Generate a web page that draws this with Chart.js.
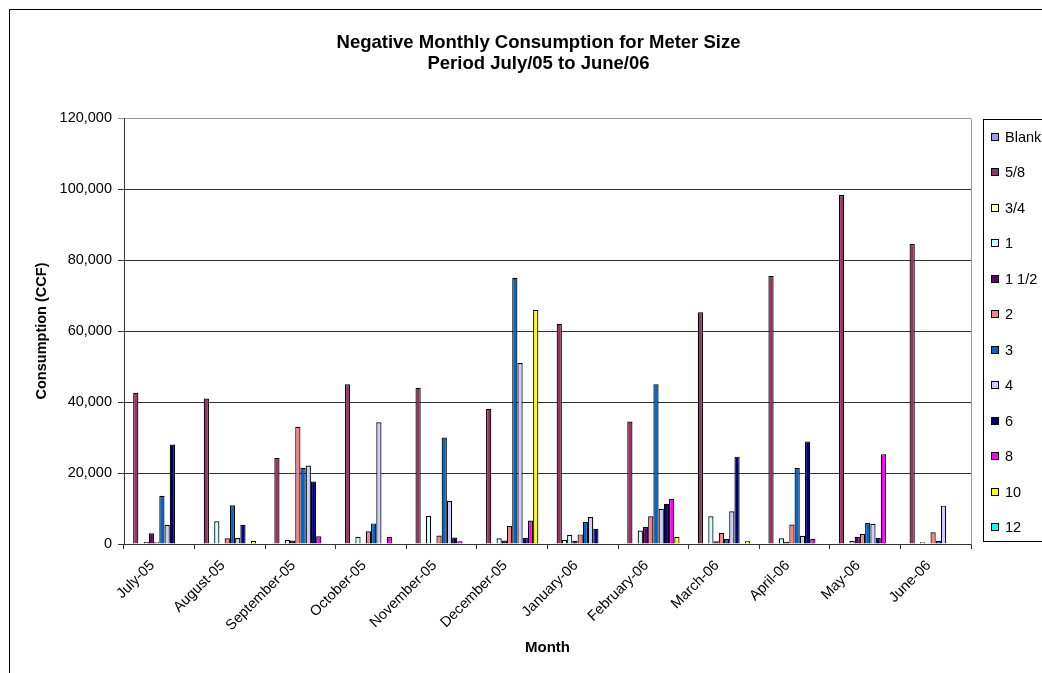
<!DOCTYPE html>
<html>
<head>
<meta charset="utf-8">
<script src="https://cdn.jsdelivr.net/npm/chart.js@4.4.1/dist/chart.umd.min.js"></script>
<style>
  html, body { margin: 0; padding: 0; background: #ffffff; overflow: hidden; }
  #wrap { width: 1042px; height: 673px; position: relative; }
  canvas { display: block; }
</style>
</head>
<body>
<div id="wrap"><canvas id="chart" width="1042" height="673"></canvas></div>
<script>
// Months on the category axis
const months = ['July-05', 'August-05', 'September-05', 'October-05', 'November-05', 'December-05',
                'January-06', 'February-06', 'March-06', 'April-06', 'May-06', 'June-06'];

// Meter sizes (one series each)
const meterSizes = ['Blank', '5/8', '3/4', '1', '1 1/2', '2', '3', '4', '6', '8', '10', '12'];

// Negative consumption per month (CCF), one array per meter size
const sizeBlank = [0, 0, 0, 0, 0, 0, 0, 0, 0, 0, 0, 0];
const size5_8   = [42600, 41000, 24200, 45000, 44000, 38100, 62000, 34500, 65300, 75500, 98300, 84500];
const size3_4   = [0, 0, 0, 0, 0, 0, 1100, 0, 0, 0, 0, 0];
const size1     = [600, 6400, 1200, 2000, 7900, 1600, 2600, 3800, 7800, 1600, 900, 500];
const size1_1_2 = [3000, 0, 1000, 0, 0, 1000, 900, 4800, 800, 600, 2000, 0];
const size2     = [500, 1600, 33000, 3600, 2400, 5100, 2700, 7800, 3100, 5500, 2800, 3300];
const size3     = [13600, 10900, 21500, 5800, 30000, 75000, 6200, 45000, 1400, 21400, 5900, 900];
const size4     = [5400, 1700, 22100, 34300, 12100, 51000, 7600, 9900, 9200, 2300, 5700, 10800];
const size6     = [28000, 5400, 17600, 0, 1800, 1700, 4300, 11300, 24600, 28900, 1700, 0];
const size8     = [0, 0, 2200, 2000, 800, 6600, 0, 12700, 0, 1500, 25300, 0];
const size10    = [0, 900, 0, 0, 0, 66000, 0, 2000, 800, 0, 0, 0];
const size12    = [0, 0, 0, 0, 0, 0, 0, 0, 0, 0, 0, 0];

// Value axis ticks
const yTickMin = 0;
const yTickMax = 120000;
const yTickStep = 20000;

// Fill colour per meter size
const sizeColors = ['#9999FF', '#993366', '#FFFFCC', '#CCFFFF', '#660066', '#FF8080',
                    '#0066CC', '#CCCCFF', '#000080', '#FF00FF', '#FFFF00', '#00FFFF'];

const seriesValues = [sizeBlank, size5_8, size3_4, size1, size1_1_2, size2,
                      size3, size4, size6, size8, size10, size12];

const FONT = "'Liberation Sans', Arial, Helvetica, sans-serif";
Chart.defaults.font.family = FONT;
Chart.defaults.color = '#000000';

const titleLines = ['Negative Monthly Consumption for Meter Size', 'Period July/05 to June/06'];

// Page furniture: white background, outer frame, title, plot border and the boxed legend
const framePlugin = {
  id: 'frame',
  beforeDraw(chart) {
    const ctx = chart.ctx;
    ctx.save();
    ctx.fillStyle = '#ffffff';
    ctx.fillRect(0, 0, chart.width, chart.height);
    ctx.strokeStyle = '#000000';
    ctx.lineWidth = 1;
    ctx.strokeRect(9.5, 9.5, chart.width + 40, chart.height + 40);
    ctx.restore();
  },
  beforeDatasetsDraw(chart) {
    const {ctx, chartArea} = chart;
    ctx.save();
    ctx.strokeStyle = '#999999';
    ctx.lineWidth = 1;
    const xr = Math.round(chartArea.right) + 0.5;
    ctx.beginPath();
    ctx.moveTo(xr, Math.round(chartArea.top) + 0.5);
    ctx.lineTo(xr, Math.round(chartArea.bottom) + 0.5);
    ctx.stroke();
    ctx.restore();
  },
  afterDraw(chart) {
    const ctx = chart.ctx;
    ctx.save();
    // Title
    ctx.fillStyle = '#000000';
    ctx.font = 'bold 18.5px ' + FONT;
    ctx.textAlign = 'center';
    ctx.textBaseline = 'middle';
    ctx.fillText(titleLines[0], 538.5, 42.5);
    ctx.fillText(titleLines[1], 538.5, 63.5);

    // Legend box
    const lx = 983.5, ly = 119.5, lb = 541.5;
    ctx.strokeStyle = '#000000';
    ctx.lineWidth = 1;
    ctx.strokeRect(lx, ly, chart.width, lb - ly);
    ctx.font = '14.5px ' + FONT;
    ctx.textAlign = 'left';
    ctx.textBaseline = 'middle';
    const step = 35.5;
    chart.data.datasets.forEach((ds, i) => {
      const cy = Math.round(136.5 + i * step);
      ctx.fillStyle = ds.backgroundColor;
      ctx.fillRect(991, cy - 4, 7, 7);
      ctx.strokeStyle = '#000000';
      ctx.strokeRect(991.5, cy - 3.5, 7, 7);
      ctx.fillStyle = '#000000';
      ctx.fillText(ds.label, 1005, cy + 0.5);
    });
    ctx.restore();
  }
};

const datasets = meterSizes.map((name, i) => ({
  label: name,
  data: seriesValues[i],
  backgroundColor: sizeColors[i],
  borderColor: '#000000',
  borderWidth: 1.2,
  categoryPercentage: 12 / 13.5,
  barPercentage: 1.0
}));

new Chart(document.getElementById('chart'), {
  type: 'bar',
  data: { labels: months, datasets },
  plugins: [framePlugin],
  options: {
    responsive: false,
    animation: false,
    devicePixelRatio: 1,
    layout: { padding: { top: 118, left: 0, right: 71, bottom: 0 } },
    plugins: {
      legend: { display: false },
      title: { display: false },
      tooltip: { enabled: false }
    },
    scales: {
      x: {
        offset: true,
        grid: {
          offset: true,
          drawOnChartArea: false,
          drawTicks: true,
          tickLength: 5,
          color: '#333333'
        },
        border: { display: true, color: '#333333', width: 1 },
        ticks: {
          autoSkip: false,
          maxRotation: 45,
          minRotation: 45,
          padding: 8,
          labelOffset: -7,
          color: '#000000',
          font: { size: 14.5 }
        },
        title: {
          display: true,
          text: 'Month',
          color: '#000000',
          font: { size: 15, weight: 'bold' },
          padding: { top: 0, bottom: 16.5 }
        },
        afterFit(scale) { scale.height = 129; }
      },
      y: {
        min: yTickMin,
        max: yTickMax,
        grid: {
          color: (c) => (c.tick && c.tick.value === yTickMax ? '#999999' : '#333333'),
          tickLength: 6
        },
        border: { display: true, color: '#333333', width: 1 },
        ticks: {
          stepSize: yTickStep,
          padding: 6,
          color: '#000000',
          font: { size: 14.5 }
        },
        title: {
          display: true,
          text: 'Consumption (CCF)',
          color: '#000000',
          font: { size: 14.5, weight: 'bold' },
          padding: { top: 33, bottom: 0 }
        },
        afterFit(scale) { scale.width = 124; }
      }
    }
  }
});
</script>
</body>
</html>
